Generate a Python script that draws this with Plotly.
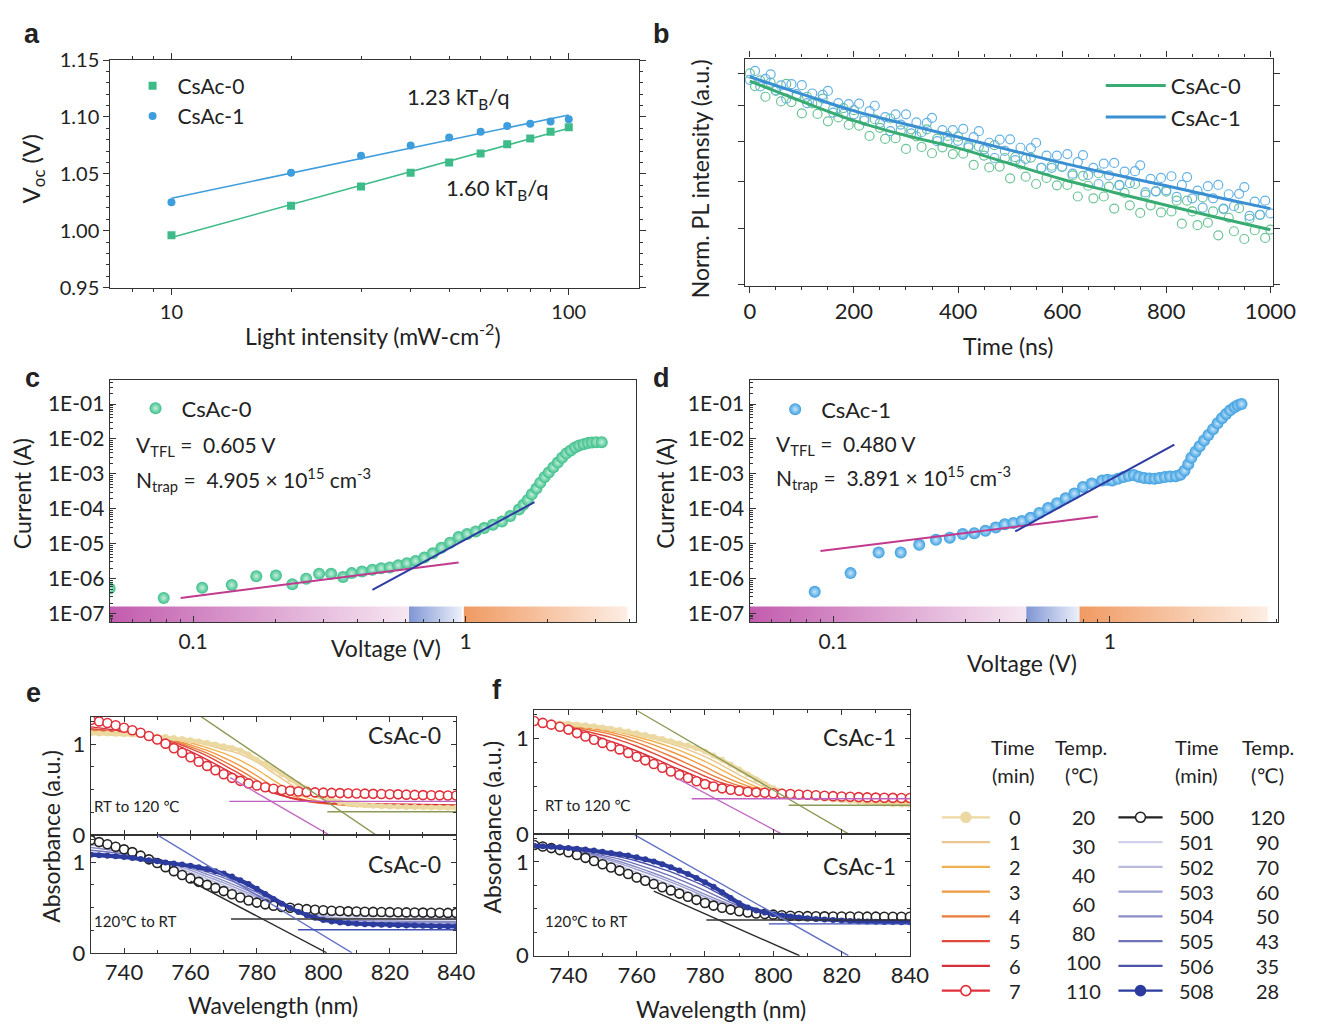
import numpy as np
import plotly.graph_objects as go

W, H = 1318, 1036
FONT = "Lato, 'Open Sans', 'DejaVu Sans', sans-serif"
INK = "#222222"

# ---------------- (a) Voc vs light intensity ----------------
A_INTENSITY = [10, 20, 30, 40, 50, 60, 70, 80, 90, 100]
A_VOC_CSAC0 = [0.996, 1.022, 1.039, 1.051, 1.060, 1.068, 1.076, 1.081, 1.087, 1.091]
A_VOC_CSAC1 = [1.025, 1.051, 1.066, 1.075, 1.082, 1.087, 1.092, 1.094, 1.096, 1.098]
A_SLOPE_LABELS = ["1.23 kT<sub>B</sub>/q", "1.60 kT<sub>B</sub>/q"]

# ---------------- (b) TRPL ----------------
B_STEP_NS = 10
B_PL_CSAC0 = [
    1.000, 0.959, 0.977, 0.926, 0.970, 0.944, 0.912, 0.966, 0.910, 0.928,
    0.877, 0.926, 0.906, 0.875, 0.920, 0.854, 0.890, 0.865, 0.892, 0.844,
    0.886, 0.842, 0.863, 0.814, 0.860, 0.836, 0.806, 0.862, 0.808, 0.829,
    0.780, 0.832, 0.813, 0.785, 0.832, 0.769, 0.807, 0.784, 0.814, 0.767,
    0.812, 0.768, 0.789, 0.740, 0.786, 0.763, 0.734, 0.790, 0.736, 0.757,
    0.708, 0.759, 0.741, 0.712, 0.758, 0.695, 0.733, 0.709, 0.738, 0.692,
    0.736, 0.693, 0.715, 0.667, 0.714, 0.691, 0.663, 0.720, 0.667, 0.689,
    0.641, 0.693, 0.675, 0.648, 0.695, 0.632, 0.671, 0.648, 0.679, 0.633,
    0.678, 0.635, 0.658, 0.610, 0.658, 0.635, 0.607, 0.665, 0.612, 0.635,
    0.587, 0.640, 0.622, 0.595, 0.642, 0.580, 0.620, 0.597, 0.628, 0.582,
    0.598]
B_PL_CSAC1 = [
    0.979, 1.008, 0.958, 0.982, 0.997, 0.946, 0.961, 0.920, 0.965, 0.934,
    0.962, 0.907, 0.936, 0.907, 0.932, 0.944, 0.879, 0.907, 0.876, 0.904,
    0.874, 0.905, 0.856, 0.883, 0.899, 0.850, 0.866, 0.827, 0.874, 0.845,
    0.874, 0.821, 0.851, 0.824, 0.850, 0.864, 0.800, 0.830, 0.800, 0.830,
    0.801, 0.833, 0.784, 0.811, 0.827, 0.779, 0.796, 0.757, 0.804, 0.775,
    0.805, 0.752, 0.783, 0.755, 0.782, 0.796, 0.733, 0.763, 0.733, 0.763,
    0.735, 0.767, 0.719, 0.747, 0.764, 0.716, 0.733, 0.695, 0.743, 0.715,
    0.745, 0.692, 0.724, 0.697, 0.725, 0.739, 0.676, 0.707, 0.678, 0.709,
    0.681, 0.713, 0.666, 0.693, 0.711, 0.663, 0.680, 0.643, 0.690, 0.663,
    0.693, 0.641, 0.672, 0.646, 0.673, 0.688, 0.626, 0.656, 0.628, 0.658,
    0.631]
B_FIT_T = [0, 100, 200, 300, 400, 500, 600, 700, 800, 900, 1000]
B_FIT_CSAC0 = [0.975, 0.912, 0.856, 0.815, 0.782, 0.743, 0.706, 0.676, 0.648, 0.622, 0.598]
B_FIT_CSAC1 = [0.989, 0.934, 0.884, 0.846, 0.811, 0.777, 0.745, 0.717, 0.691, 0.665, 0.641]

# ---------------- (c) SCLC CsAc-0 ----------------
C_V = [0.0494, 0.078, 0.108, 0.1386, 0.1706, 0.2014, 0.2313, 0.26, 0.29, 0.321,
       0.355, 0.382, 0.417, 0.455, 0.49, 0.527, 0.566, 0.609, 0.655, 0.705,
       0.758, 0.815, 0.877, 0.943, 1.013, 1.09, 1.17, 1.26, 1.36, 1.46,
       1.57, 1.63, 1.69, 1.75, 1.82, 1.88, 1.95, 2.02, 2.10, 2.18,
       2.26, 2.34, 2.43, 2.52, 2.61, 2.71, 2.81, 2.91, 3.02, 3.16]
C_I = [5.2e-7, 2.8e-7, 5.5e-7, 6.6e-7, 1.17e-6, 1.23e-6, 6.9e-7, 1.0e-6, 1.38e-6, 1.38e-6,
       1.12e-6, 1.44e-6, 1.6e-6, 1.8e-6, 2.0e-6, 2.1e-6, 2.4e-6, 2.76e-6, 3.2e-6, 4.0e-6,
       5.3e-6, 7.7e-6, 1.07e-5, 1.55e-5, 1.9e-5, 2.25e-5, 2.8e-5, 3.5e-5, 4.3e-5, 6.2e-5,
       9.5e-5, 1.3e-4, 1.8e-4, 2.6e-4, 3.8e-4, 5.6e-4, 8.1e-4, 1.1e-3, 1.55e-3, 2.1e-3,
       2.9e-3, 3.8e-3, 4.7e-3, 5.7e-3, 6.5e-3, 7.1e-3, 7.6e-3, 7.9e-3, 8.1e-3, 8.1e-3]
C_OHM_V, C_OHM_I = [0.090, 0.943], [2.8e-7, 2.9e-6]
C_TFL_V, C_TFL_I = [0.455, 1.79], [4.8e-7, 1.55e-4]
C_REGIONS = [0.0494, 0.62, 0.97, 0.985, 3.93]
C_TEXT = ["V<sub>TFL</sub> =  0.605 V", "N<sub>trap</sub> =  4.905 × 10<sup>15</sup> cm<sup>-3</sup>"]

# ---------------- (d) SCLC CsAc-1 ----------------
D_V = [0.0858, 0.1156, 0.146, 0.1755, 0.2047, 0.2353, 0.264, 0.294, 0.3236, 0.355,
       0.387, 0.417, 0.448, 0.481, 0.517, 0.556, 0.598, 0.644, 0.692, 0.744,
       0.80, 0.86, 0.938, 0.98, 1.02, 1.07, 1.12, 1.17, 1.22, 1.27,
       1.33, 1.39, 1.45, 1.51, 1.58, 1.65, 1.73, 1.80, 1.86, 1.92,
       1.97, 2.04, 2.11, 2.19, 2.27, 2.36, 2.45, 2.54, 2.63, 2.72,
       2.82, 2.90, 2.99]
D_I = [4.2e-7, 1.44e-6, 5.6e-6, 5.6e-6, 9.3e-6, 1.29e-5, 1.48e-5, 1.9e-5, 2.0e-5, 2.35e-5,
       2.9e-5, 3.6e-5, 3.9e-5, 4.5e-5, 5.5e-5, 7.6e-5, 1.05e-4, 1.45e-4, 2.0e-4, 2.75e-4,
       4.2e-4, 5.3e-4, 6.5e-4, 6.8e-4, 6.5e-4, 7.2e-4, 8.1e-4, 8.8e-4, 9.3e-4, 8.3e-4,
       7.6e-4, 7.4e-4, 7.3e-4, 7.6e-4, 8.1e-4, 8.4e-4, 8.6e-4, 9.5e-4, 1.23e-3, 1.9e-3,
       2.9e-3, 4.3e-3, 6.2e-3, 9.0e-3, 1.3e-2, 1.9e-2, 2.8e-2, 3.9e-2, 5.2e-2, 6.6e-2,
       8.1e-2, 9.2e-2, 0.1]
D_OHM_V, D_OHM_I = [0.090, 0.905], [6.2e-6, 6.0e-5]
D_TFL_V, D_TFL_I = [0.455, 1.71], [2.24e-5, 6.9e-3]
D_REGIONS = [0.0499, 0.499, 0.777, 0.777, 3.72]
D_TEXT = ["V<sub>TFL</sub> =  0.480 V", "N<sub>trap</sub> =  3.891 × 10<sup>15</sup> cm<sup>-3</sup>"]

# ---------------- (e, f) absorbance edges ----------------
WL = np.arange(730, 840.01, 2.5)          # measurement grid for the marker curves
THIN_WL = [730, 740, 750, 755, 760, 765, 770, 775, 780, 785, 790, 795, 800, 805, 810, 820, 830, 840]

HEAT_TIMES = [0, 1, 2, 3, 4, 5, 6, 7]
HEAT_TEMPS = [20, 30, 40, 60, 80, 100, 110]
COOL_TIMES = [500, 501, 502, 503, 504, 505, 506, 508]
COOL_TEMPS = [120, 90, 70, 60, 50, 43, 35, 28]
HEAT_COLORS = ["#ecd9a2", "#e9c78e", "#f0b24e", "#f09842", "#e97b3a", "#e04a3c", "#d6303c", "#e0303c"]
COOL_COLORS = ["#222222", "#cfd0ea", "#b8bade", "#a0a3d2", "#8a8cc6", "#6f72b8", "#4e52a8", "#2b3b9e"]

E_HEAT_T0 = [1.12, 1.118, 1.116, 1.114, 1.11, 1.106, 1.1, 1.093, 1.085, 1.077, 1.068, 1.056, 1.043, 1.028,
             1.012, 0.995, 0.977, 0.957, 0.93, 0.885, 0.825, 0.78, 0.73, 0.67, 0.61, 0.558, 0.51, 0.46,
             0.42, 0.385, 0.36, 0.343, 0.332, 0.325, 0.32, 0.316, 0.313, 0.31, 0.308, 0.306, 0.304,
             0.302, 0.3, 0.299, 0.298]
E_HEAT_T7 = [1.265, 1.25, 1.232, 1.207, 1.18, 1.153, 1.125, 1.09, 1.05, 1.005, 0.955, 0.905, 0.855, 0.805,
             0.76, 0.712, 0.668, 0.628, 0.595, 0.567, 0.543, 0.524, 0.508, 0.495, 0.485, 0.478, 0.472,
             0.468, 0.465, 0.462, 0.46, 0.458, 0.456, 0.454, 0.452, 0.45, 0.448, 0.446, 0.443, 0.44,
             0.438, 0.436, 0.435, 0.434, 0.433]
E_HEAT_THIN = [
    [1.13, 1.115, 1.09, 1.065, 1.035, 0.99, 0.94, 0.89, 0.80, 0.68, 0.56, 0.46, 0.39, 0.34, 0.32, 0.305, 0.30, 0.295],
    [1.14, 1.12, 1.085, 1.055, 1.015, 0.96, 0.90, 0.82, 0.72, 0.60, 0.49, 0.41, 0.36, 0.33, 0.315, 0.31, 0.305, 0.30],
    [1.15, 1.12, 1.08, 1.045, 0.99, 0.93, 0.85, 0.76, 0.65, 0.53, 0.44, 0.38, 0.35, 0.33, 0.32, 0.315, 0.31, 0.305],
    [1.16, 1.125, 1.075, 1.035, 0.97, 0.90, 0.81, 0.71, 0.60, 0.49, 0.41, 0.37, 0.345, 0.335, 0.33, 0.32, 0.315, 0.31],
    [1.17, 1.13, 1.065, 1.02, 0.95, 0.87, 0.77, 0.67, 0.56, 0.47, 0.405, 0.37, 0.35, 0.34, 0.335, 0.33, 0.325, 0.32],
    [1.19, 1.14, 1.06, 1.0, 0.92, 0.83, 0.73, 0.63, 0.54, 0.46, 0.41, 0.38, 0.36, 0.35, 0.345, 0.34, 0.335, 0.33]]
E_COOL_T500 = [1.242, 1.22, 1.196, 1.168, 1.14, 1.11, 1.071, 1.03, 0.989, 0.944, 0.9, 0.858, 0.82, 0.782,
               0.749, 0.715, 0.68, 0.645, 0.61, 0.577, 0.553, 0.534, 0.519, 0.506, 0.496, 0.488, 0.481,
               0.475, 0.469, 0.464, 0.46, 0.457, 0.455, 0.453, 0.451, 0.45, 0.448, 0.447, 0.445, 0.444,
               0.443, 0.442, 0.441, 0.44, 0.44]
E_COOL_T508 = [1.08, 1.076, 1.07, 1.063, 1.055, 1.046, 1.035, 1.02, 1.008, 0.996, 0.984, 0.972, 0.958, 0.942,
               0.923, 0.9, 0.873, 0.84, 0.8, 0.757, 0.705, 0.648, 0.592, 0.54, 0.493, 0.45, 0.414, 0.385,
               0.362, 0.346, 0.334, 0.325, 0.319, 0.315, 0.312, 0.309, 0.306, 0.304, 0.302, 0.3, 0.298,
               0.296, 0.294, 0.292, 0.29]
E_COOL_THIN = [
    [1.23, 1.15, 1.02, 0.94, 0.86, 0.79, 0.72, 0.65, 0.585, 0.53, 0.49, 0.46, 0.44, 0.43, 0.425, 0.42, 0.418, 0.415],
    [1.21, 1.14, 1.03, 0.96, 0.885, 0.815, 0.745, 0.675, 0.605, 0.54, 0.485, 0.445, 0.42, 0.41, 0.405, 0.40, 0.398, 0.395],
    [1.19, 1.13, 1.035, 0.975, 0.91, 0.84, 0.77, 0.695, 0.62, 0.55, 0.48, 0.43, 0.40, 0.385, 0.38, 0.375, 0.372, 0.37],
    [1.16, 1.11, 1.035, 0.985, 0.93, 0.865, 0.795, 0.72, 0.64, 0.56, 0.48, 0.42, 0.385, 0.365, 0.357, 0.35, 0.347, 0.345],
    [1.13, 1.09, 1.03, 0.99, 0.945, 0.89, 0.825, 0.75, 0.665, 0.575, 0.485, 0.415, 0.37, 0.35, 0.34, 0.333, 0.33, 0.328],
    [1.10, 1.07, 1.02, 0.99, 0.955, 0.91, 0.85, 0.775, 0.685, 0.585, 0.49, 0.413, 0.365, 0.34, 0.328, 0.318, 0.312, 0.308]]

F_HEAT_T0 = [1.17, 1.168, 1.165, 1.16, 1.155, 1.148, 1.14, 1.13, 1.118, 1.105, 1.09, 1.074, 1.056, 1.037,
             1.017, 0.995, 0.972, 0.95, 0.928, 0.9, 0.865, 0.823, 0.778, 0.728, 0.676, 0.624, 0.572,
             0.522, 0.48, 0.447, 0.423, 0.404, 0.389, 0.377, 0.368, 0.36, 0.352, 0.344, 0.336, 0.329,
             0.322, 0.317, 0.312, 0.309, 0.307]
F_HEAT_T7 = [1.185, 1.165, 1.147, 1.125, 1.095, 1.058, 1.022, 0.988, 0.955, 0.92, 0.887, 0.85, 0.81, 0.772,
             0.734, 0.695, 0.655, 0.618, 0.586, 0.552, 0.522, 0.497, 0.478, 0.464, 0.452, 0.443, 0.436,
             0.431, 0.426, 0.422, 0.418, 0.414, 0.41, 0.405, 0.40, 0.396, 0.392, 0.389, 0.386, 0.383,
             0.381, 0.379, 0.378, 0.377, 0.376]
F_HEAT_THIN = [
    [1.17, 1.15, 1.11, 1.08, 1.04, 0.995, 0.945, 0.885, 0.81, 0.72, 0.62, 0.53, 0.455, 0.41, 0.385, 0.355, 0.33, 0.315],
    [1.175, 1.145, 1.10, 1.065, 1.02, 0.97, 0.91, 0.84, 0.76, 0.67, 0.575, 0.495, 0.44, 0.405, 0.385, 0.36, 0.34, 0.325],
    [1.175, 1.14, 1.085, 1.045, 0.995, 0.935, 0.865, 0.79, 0.705, 0.615, 0.535, 0.475, 0.435, 0.41, 0.395, 0.37, 0.352, 0.34],
    [1.18, 1.13, 1.065, 1.02, 0.96, 0.89, 0.815, 0.735, 0.65, 0.57, 0.505, 0.46, 0.435, 0.415, 0.40, 0.38, 0.363, 0.352],
    [1.18, 1.12, 1.035, 0.985, 0.92, 0.845, 0.765, 0.685, 0.605, 0.535, 0.485, 0.452, 0.432, 0.418, 0.405, 0.385, 0.37, 0.36],
    [1.185, 1.11, 1.0, 0.94, 0.87, 0.795, 0.715, 0.64, 0.565, 0.505, 0.468, 0.446, 0.43, 0.42, 0.41, 0.39, 0.377, 0.368]]
F_COOL_T500 = [1.182, 1.165, 1.148, 1.127, 1.104, 1.075, 1.044, 1.01, 0.976, 0.942, 0.908, 0.872, 0.834, 0.8,
               0.765, 0.731, 0.697, 0.663, 0.63, 0.596, 0.563, 0.535, 0.512, 0.492, 0.474, 0.461, 0.451,
               0.444, 0.438, 0.432, 0.427, 0.424, 0.422, 0.421, 0.42, 0.419, 0.419, 0.418, 0.418, 0.417,
               0.417, 0.416, 0.416, 0.416, 0.416]
F_COOL_T508 = [1.172, 1.168, 1.163, 1.157, 1.15, 1.142, 1.132, 1.122, 1.11, 1.097, 1.083, 1.068, 1.05, 1.03,
               1.005, 0.976, 0.945, 0.91, 0.872, 0.83, 0.785, 0.735, 0.678, 0.615, 0.56, 0.515, 0.483,
               0.46, 0.442, 0.43, 0.418, 0.408, 0.40, 0.393, 0.386, 0.38, 0.375, 0.371, 0.368, 0.365,
               0.362, 0.36, 0.359, 0.358, 0.357]
F_COOL_THIN = [
    [1.18, 1.115, 1.0, 0.935, 0.865, 0.795, 0.725, 0.655, 0.585, 0.525, 0.48, 0.452, 0.437, 0.427, 0.42, 0.412, 0.408, 0.405],
    [1.178, 1.12, 1.02, 0.96, 0.89, 0.825, 0.755, 0.68, 0.605, 0.54, 0.488, 0.455, 0.437, 0.425, 0.417, 0.408, 0.402, 0.40],
    [1.176, 1.125, 1.04, 0.985, 0.92, 0.855, 0.785, 0.71, 0.63, 0.56, 0.50, 0.46, 0.438, 0.424, 0.414, 0.403, 0.396, 0.393],
    [1.175, 1.13, 1.055, 1.005, 0.945, 0.88, 0.81, 0.735, 0.655, 0.58, 0.512, 0.466, 0.44, 0.423, 0.411, 0.397, 0.388, 0.385],
    [1.174, 1.138, 1.07, 1.03, 0.975, 0.915, 0.85, 0.775, 0.695, 0.61, 0.53, 0.474, 0.441, 0.421, 0.407, 0.39, 0.379, 0.374],
    [1.173, 1.145, 1.09, 1.055, 1.01, 0.955, 0.895, 0.82, 0.74, 0.645, 0.545, 0.478, 0.442, 0.42, 0.404, 0.383, 0.37, 0.365]]

# Tangents and baselines: (x pair, y pair, colour)
E_TOP_GUIDES = [([763.3, 815.8], [1.3, 0.0], "#8d9a57"), ([801.2, 840], [0.254, 0.254], "#8d9a57"),
                ([772, 801.7], [0.63, 0.0], "#c46cc4"), ([771.7, 840], [0.369, 0.369], "#c060c0")]
E_BOT_GUIDES = [([760, 801], [0.79, 0.0], "#2a2a2a"), ([772.2, 840], [0.372, 0.372], "#333333"),
                ([750, 808.6], [1.3, 0.0], "#6270c6"), ([792.4, 840], [0.254, 0.254], "#3f4fb6")]
F_TOP_GUIDES = [([760.3, 822], [1.29, 0.0], "#8d9a57"), ([804.5, 840], [0.30, 0.30], "#8d9a57"),
                ([772, 802.4], [0.58, 0.0], "#c46cc4"), ([776.1, 840], [0.369, 0.369], "#c060c0")]
F_BOT_GUIDES = [([765, 807.7], [0.69, 0.0], "#2a2a2a"), ([780.4, 840], [0.381, 0.381], "#333333"),
                ([759.4, 822], [1.29, 0.0], "#6270c6"), ([798.7, 840], [0.34, 0.34], "#3f4fb6")]


def dom_x(p0, p1):
    return [p0 / W, p1 / W]


def dom_y(top, bottom):
    return [1 - bottom / H, 1 - top / H]


def px(x):
    return x / W


def py(y):
    return 1 - y / H


BASE_AX = dict(showline=True, linecolor="#333333", linewidth=1.2, mirror=True, showgrid=False,
               zeroline=False, tickcolor="#333333", tickfont=dict(family=FONT, size=20, color=INK))

fig = go.Figure()

# ---------- (a) ----------
GREEN_A, BLUE_A = "#3dbb88", "#3e9ddc"
for voc, col, sym, name in [(A_VOC_CSAC0, GREEN_A, "square", "CsAc-0"), (A_VOC_CSAC1, BLUE_A, "circle", "CsAc-1")]:
    k, b = np.polyfit(np.log10(A_INTENSITY), voc, 1)
    ends = [A_INTENSITY[0], A_INTENSITY[-1]]
    fig.add_trace(go.Scatter(x=ends, y=[k * np.log10(e) + b for e in ends], mode="lines",
                             line=dict(color=col, width=1.6), showlegend=False, xaxis="x", yaxis="y"))
    fig.add_trace(go.Scatter(x=A_INTENSITY, y=voc, mode="markers", name=name,
                             marker=dict(symbol=sym, size=8, color=col), legend="legend",
                             xaxis="x", yaxis="y"))

# ---------- (b) ----------
t_b = [B_STEP_NS * i for i in range(len(B_PL_CSAC0))]
B_SERIES = [(B_PL_CSAC0, B_FIT_CSAC0, "#6cc495", "#38ab72", "CsAc-0"),
            (B_PL_CSAC1, B_FIT_CSAC1, "#64b2e6", "#3a8fd2", "CsAc-1")]
for pl, fit, mcol, lcol, name in B_SERIES:
    fig.add_trace(go.Scatter(x=t_b, y=pl, mode="markers", showlegend=False,
                             marker=dict(symbol="circle-open", size=9, color=mcol, line=dict(width=1.2)),
                             xaxis="x2", yaxis="y2"))
for pl, fit, mcol, lcol, name in B_SERIES:
    fig.add_trace(go.Scatter(x=B_FIT_T, y=fit, mode="lines", name=name,
                             line=dict(color=lcol, width=3, shape="spline"),
                             legend="legend2", xaxis="x2", yaxis="y2"))

# ---------- (c), (d) ----------
REGION_SCALES = [["#c25cae", "#f6e7f2"], ["#7f96d4", "#eef1fa"], ["#f09a62", "#fdeee4"]]
BAND_Y = [10 ** -7.25, 10 ** -6.8]


def sclc_panel(xa, ya, V, I, ohm, tfl, regions, col, center, name, leg):
    segs = [(regions[0], regions[1]), (regions[1], regions[2]), (regions[3], regions[4])]
    for (x0, x1), cs in zip(segs, REGION_SCALES):
        fig.add_trace(go.Scatter(x=[x0, x1, x1, x0, x0], y=[BAND_Y[0], BAND_Y[0], BAND_Y[1], BAND_Y[1], BAND_Y[0]],
                                 mode="lines", fill="toself", line=dict(width=0, color="rgba(0,0,0,0)"),
                                 fillgradient=dict(type="horizontal", colorscale=[[0, cs[0]], [1, cs[1]]]),
                                 showlegend=False, hoverinfo="skip", xaxis=xa, yaxis=ya))
    fig.add_trace(go.Scatter(x=V, y=I, mode="markers", name=name, legend=leg,
                             marker=dict(size=12, color=col, gradient=dict(type="radial", color=center),
                                         line=dict(width=0)),
                             xaxis=xa, yaxis=ya))
    fig.add_trace(go.Scatter(x=ohm[0], y=ohm[1], mode="lines", line=dict(color="#c23a8e", width=2),
                             showlegend=False, xaxis=xa, yaxis=ya))
    fig.add_trace(go.Scatter(x=tfl[0], y=tfl[1], mode="lines", line=dict(color="#2d3aa2", width=2),
                             showlegend=False, xaxis=xa, yaxis=ya))


sclc_panel("x3", "y3", C_V, C_I, (C_OHM_V, C_OHM_I), (C_TFL_V, C_TFL_I), C_REGIONS,
           "#3cbf8a", "#c4f0dc", "CsAc-0", "legend3")
sclc_panel("x4", "y4", D_V, D_I, (D_OHM_V, D_OHM_I), (D_TFL_V, D_TFL_I), D_REGIONS,
           "#3c9fe0", "#c8e6fb", "CsAc-1", "legend4")


# ---------- (e), (f) ----------
def abs_panel(xa, ya, first, last, thin, colors, guides, heating):
    for vals, col in zip(thin, colors[1:7]):
        fig.add_trace(go.Scatter(x=THIN_WL, y=vals, mode="lines", line=dict(color=col, width=1.4, shape="spline"),
                                 showlegend=False, xaxis=xa, yaxis=ya))
    dense_vals, dense_col = (first, colors[0]) if heating else (last, colors[7])
    open_vals, open_col = (last, colors[7]) if heating else (first, colors[0])
    dense = go.Scatter(x=WL, y=dense_vals, mode="lines+markers", line=dict(color=dense_col, width=4),
                       marker=dict(size=6, color=dense_col), showlegend=False, xaxis=xa, yaxis=ya)
    opened = go.Scatter(x=WL, y=open_vals, mode="markers",
                        marker=dict(size=9, color="white", line=dict(color=open_col, width=1.6)),
                        showlegend=False, xaxis=xa, yaxis=ya)
    if heating:
        fig.add_trace(dense); fig.add_trace(opened)
    else:
        fig.add_trace(opened); fig.add_trace(dense)
    for gx, gy, gc in guides:
        fig.add_trace(go.Scatter(x=gx, y=gy, mode="lines", line=dict(color=gc, width=1.4),
                                 showlegend=False, xaxis=xa, yaxis=ya))


abs_panel("x5", "y5", E_HEAT_T0, E_HEAT_T7, E_HEAT_THIN, HEAT_COLORS, E_TOP_GUIDES, True)
abs_panel("x6", "y6", E_COOL_T500, E_COOL_T508, E_COOL_THIN, COOL_COLORS, E_BOT_GUIDES, False)
abs_panel("x7", "y7", F_HEAT_T0, F_HEAT_T7, F_HEAT_THIN, HEAT_COLORS, F_TOP_GUIDES, True)
abs_panel("x8", "y8", F_COOL_T500, F_COOL_T508, F_COOL_THIN, COOL_COLORS, F_BOT_GUIDES, False)

# ---------- custom legend for (e, f) on a hidden overlay axis (units: px offset) ----------
ROW0, ROW_GAP = 100, 25.4
LEFT_LINE, RIGHT_LINE = (13, 62), (193, 238)
LEG_FONT = dict(size=20, color=INK, family=FONT)
annotations = []
for i in range(8):
    ry = ROW0 + ROW_GAP * i
    for (lx0, lx1), col, is_marked, filled in [(LEFT_LINE, HEAT_COLORS[i], i in (0, 7), i == 0),
                                                (RIGHT_LINE, COOL_COLORS[i], i in (0, 7), i == 7)]:
        fig.add_trace(go.Scatter(x=[lx0, lx1], y=[ry, ry], mode="lines", line=dict(color=col, width=2.2),
                                 showlegend=False, hoverinfo="skip", xaxis="x9", yaxis="y9"))
        if is_marked:
            fig.add_trace(go.Scatter(x=[(lx0 + lx1) / 2], y=[ry], mode="markers",
                                     marker=dict(size=10, color=col if filled else "white",
                                                 line=dict(color=col, width=1.6)),
                                     showlegend=False, hoverinfo="skip", xaxis="x9", yaxis="y9"))
    annotations.append(dict(x=88, y=ry, xref="x9", yref="y9", text=str(HEAT_TIMES[i]), showarrow=False,
                            font=LEG_FONT))
    annotations.append(dict(x=273, y=ry, xref="x9", yref="y9", text=str(COOL_TIMES[i]), showarrow=False,
                            font=LEG_FONT))
    annotations.append(dict(x=345, y=ry, xref="x9", yref="y9", text=str(COOL_TEMPS[i]), showarrow=False,
                            font=LEG_FONT))
for k, temp in enumerate(HEAT_TEMPS):
    ry = ROW0 + ROW_GAP * 7 * k / (len(HEAT_TEMPS) - 1)
    annotations.append(dict(x=157, y=ry, xref="x9", yref="y9", text=str(temp), showarrow=False,
                            font=LEG_FONT))
for hx, t1 in [(86, "Time"), (155, "Temp."), (273, "Time"), (345, "Temp.")]:
    annotations.append(dict(x=hx, y=28, xref="x9", yref="y9", text=t1, showarrow=False, font=LEG_FONT))
for hx, t2 in [(86, "(min)"), (155, "(℃)"), (273, "(min)"), (345, "(℃)")]:
    annotations.append(dict(x=hx, y=57, xref="x9", yref="y9", text=t2, showarrow=False, font=LEG_FONT))


# ---------- text annotations ----------
def txt(x, y, s, size=19, xanchor="center", angle=0, bold=False, family=FONT):
    annotations.append(dict(x=px(x), y=py(y), xref="paper", yref="paper", text=f"<b>{s}</b>" if bold else s,
                            showarrow=False, xanchor=xanchor, yanchor="middle", textangle=angle,
                            font=dict(size=size, color=INK, family=family)))


LET = "'Liberation Sans', Arial, sans-serif"
for lx, ly, s in [(31, 22, "a"), (672, 22, "b"), (31, 374, "c"), (672, 374, "d"), (32, 697, "e"), (505, 694, "f")]:
    txt(lx, ly, s, size=27, bold=True, family=LET)

TITLE = 23
txt(378, 330, "Light intensity (mW-cm<sup>-2</sup>)", size=TITLE)
txt(32, 160, "V<sub>oc</sub> (V)", size=24, angle=-90)
txt(411, 87, A_SLOPE_LABELS[0], size=22, xanchor="left")
txt(451, 181, A_SLOPE_LABELS[1], size=22, xanchor="left")
txt(1025, 342, "Time (ns)", size=TITLE)
txt(711, 170, "Norm. PL intensity (a.u.)", size=TITLE, angle=-90)
txt(20, 493, "Current (A)", size=TITLE, angle=-90)
txt(391, 651, "Voltage (V)", size=TITLE)
txt(135, 444, C_TEXT[0], size=21, xanchor="left")
txt(135, 478, C_TEXT[1], size=21, xanchor="left")
txt(675, 493, "Current (A)", size=TITLE, angle=-90)
txt(1040, 667, "Voltage (V)", size=TITLE)
txt(787, 443, D_TEXT[0], size=21, xanchor="left")
txt(787, 476, D_TEXT[1], size=21, xanchor="left")
txt(50, 845, "Absorbance (a.u.)", size=TITLE, angle=-90)
txt(276, 1018, "Wavelength (nm)", size=TITLE)
txt(500, 835, "Absorbance (a.u.)", size=TITLE, angle=-90)
txt(733, 1022, "Wavelength (nm)", size=TITLE)
txt(450, 741, "CsAc-0", size=23, xanchor="right")
txt(450, 873, "CsAc-0", size=23, xanchor="right")
txt(913, 743, "CsAc-1", size=23, xanchor="right")
txt(913, 875, "CsAc-1", size=23, xanchor="right")
txt(92, 813, "RT to 120 ℃", size=15, xanchor="left")
txt(92, 931, "120℃ to RT", size=15, xanchor="left")
txt(551, 812, "RT to 120 ℃", size=15, xanchor="left")
txt(551, 931, "120℃ to RT", size=15, xanchor="left")


# ---------- axes ----------
def decade_minor(lo, hi):
    return [m * 10.0 ** e for e in range(lo, hi) for m in range(2, 10)]


log_ticks = [10.0 ** -e for e in range(1, 8)]
log_text = ["1E-0%d" % e for e in range(1, 8)]
TICKF = dict(family=FONT, size=21, color=INK)

abs_x = dict(BASE_AX, range=[730, 840], tickvals=[740, 760, 780, 800, 820, 840], ticks="inside", ticklen=5,
             mirror="allticks", minor=dict(dtick=10, ticks="inside", ticklen=3, tickcolor="#333333"),
             tickfont=dict(family=FONT, size=22, color=INK))
abs_y = dict(BASE_AX, range=[0, 1.3], tickvals=[0, 1], ticks="inside", ticklen=5, mirror="allticks",
             minor=dict(dtick=0.25, ticks="inside", ticklen=3, tickcolor="#333333"),
             tickfont=dict(family=FONT, size=22, color=INK))

LEG = dict(xanchor="left", yanchor="top", bgcolor="rgba(0,0,0,0)", tracegroupgap=0)

fig.update_layout(
    width=W, height=H, margin=dict(l=0, r=0, t=0, b=0), paper_bgcolor="white", plot_bgcolor="white",
    font=dict(family=FONT, color=INK), annotations=annotations, hovermode=False,
    xaxis=dict(BASE_AX, domain=dom_x(110.5, 649.5), anchor="y", type="log",
               range=[np.log10(7.02), np.log10(150.4)], tickvals=[10, 100], ticks="outside", ticklen=6,
               mirror="allticks", minor=dict(tickvals=[7, 8, 9] + list(range(20, 100, 10)), ticks="outside",
                                             ticklen=3, tickcolor="#333333")),
    yaxis=dict(BASE_AX, domain=dom_y(48.3, 281.7), anchor="x", range=[0.95, 1.15], dtick=0.05,
               tickformat=".2f", ticks="outside", ticklen=6, mirror="allticks",
               minor=dict(dtick=0.01, ticks="outside", ticklen=3, tickcolor="#333333")),
    xaxis2=dict(BASE_AX, domain=dom_x(757.5, 1295.8), anchor="y2", range=[-9, 1005.5], dtick=200,
                ticks="outside", ticklen=6, mirror="allticks", tickfont=dict(family=FONT, size=22, color=INK),
                minor=dict(dtick=50, ticks="outside", ticklen=3, tickcolor="#333333")),
    yaxis2=dict(BASE_AX, domain=dom_y(46.7, 280), anchor="x2", type="log",
                range=[np.log10(0.497), np.log10(1.05)], tickvals=[0.5, 0.6, 0.7, 0.8, 0.9, 1.0],
                showticklabels=False, ticks="outside", ticklen=6, mirror="allticks"),
    xaxis3=dict(BASE_AX, domain=dom_x(109.8, 646.6), anchor="y3", type="log", range=[-1.306, 0.6266],
                tickvals=[0.1, 1], ticktext=["0.1", "1"], ticks="inside", ticklen=6, tickfont=TICKF,
                minor=dict(tickvals=decade_minor(-2, 1), ticks="inside", ticklen=3, tickcolor="#333333")),
    yaxis3=dict(BASE_AX, domain=dom_y(376, 625), anchor="x3", type="log", range=[-7.25, -0.30],
                tickvals=log_ticks, ticktext=log_text, ticks="inside", ticklen=6, tickfont=TICKF,
                minor=dict(tickvals=decade_minor(-8, 0), ticks="inside", ticklen=3, tickcolor="#333333")),
    xaxis4=dict(BASE_AX, domain=dom_x(762, 1300.8), anchor="y4", type="log", range=[-1.302, 0.608],
                tickvals=[0.1, 1], ticktext=["0.1", "1"], ticks="inside", ticklen=6, tickfont=TICKF,
                minor=dict(tickvals=decade_minor(-2, 1), ticks="inside", ticklen=3, tickcolor="#333333")),
    yaxis4=dict(BASE_AX, domain=dom_y(376, 625), anchor="x4", type="log", range=[-7.25, -0.30],
                tickvals=log_ticks, ticktext=log_text, ticks="inside", ticklen=6, tickfont=TICKF,
                minor=dict(tickvals=decade_minor(-8, 0), ticks="inside", ticklen=3, tickcolor="#333333")),
    xaxis5=dict(abs_x, domain=dom_x(90.5, 463), anchor="y5", showticklabels=False),
    yaxis5=dict(abs_y, domain=dom_y(722, 843), anchor="x5"),
    xaxis6=dict(abs_x, domain=dom_x(90.5, 463), anchor="y6"),
    yaxis6=dict(abs_y, domain=dom_y(843, 964), anchor="x6"),
    xaxis7=dict(abs_x, domain=dom_x(542.5, 925.5), anchor="y7", showticklabels=False),
    yaxis7=dict(abs_y, domain=dom_y(715, 842), anchor="x7"),
    xaxis8=dict(abs_x, domain=dom_x(542.5, 925.5), anchor="y8"),
    yaxis8=dict(abs_y, domain=dom_y(842, 967), anchor="x8"),
    xaxis9=dict(domain=dom_x(945, 1318), anchor="y9", range=[0, 373], visible=False, fixedrange=True),
    yaxis9=dict(domain=dom_y(725, 1036), anchor="x9", range=[311, 0], visible=False, fixedrange=True),
    legend=dict(LEG, x=px(128), y=py(54), font=dict(size=21, family=FONT, color=INK), itemwidth=40),
    legend2=dict(LEG, x=px(1120), y=py(53), font=dict(size=22, family=FONT, color=INK), itemwidth=60),
    legend3=dict(LEG, x=px(130), y=py(384), font=dict(size=22, family=FONT, color=INK), itemwidth=42),
    legend4=dict(LEG, x=px(782), y=py(385), font=dict(size=22, family=FONT, color=INK), itemwidth=42),
)

fig.write_html("out.html", config={"displayModeBar": False},
               post_script="document.body.style.margin='0px';document.body.style.overflow='hidden';")
